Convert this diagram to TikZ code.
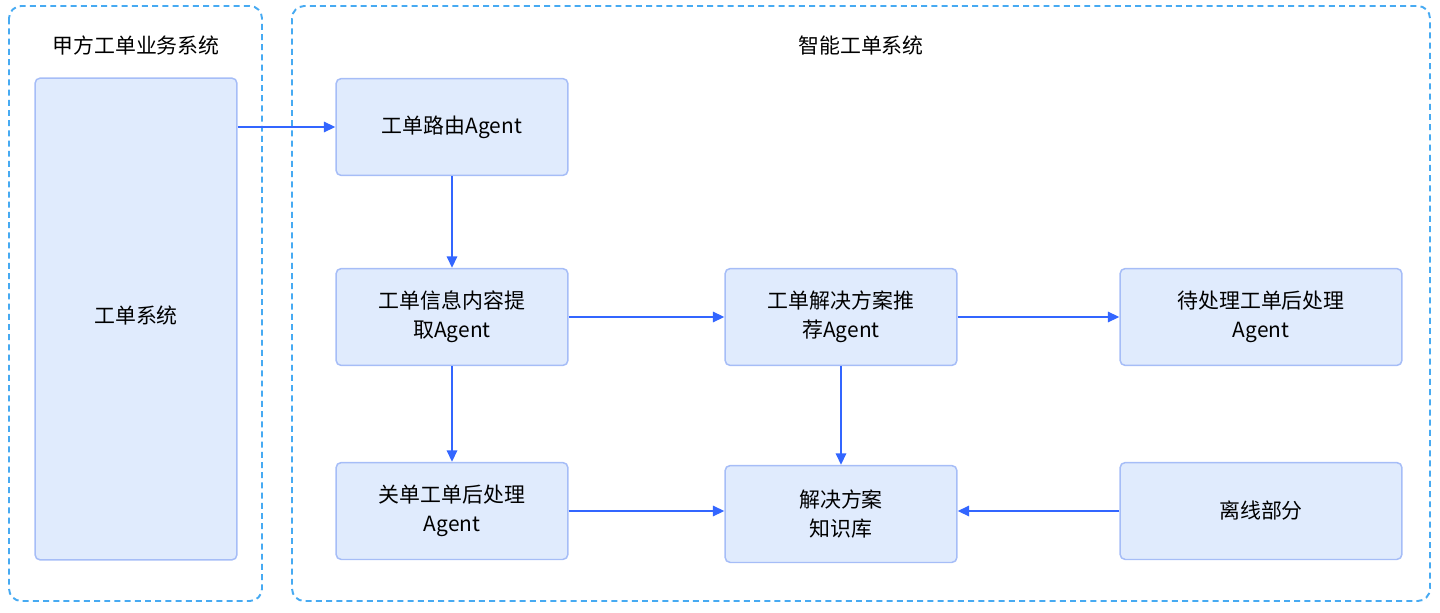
\documentclass[tikz,border=0pt]{standalone}
\usepackage{fontspec}
\setmainfont{Noto Sans CJK SC}
\usepackage{tikz}
\usepackage{xcolor}
\usetikzlibrary{positioning,arrows.meta}
\definecolor{boxfill}{HTML}{E0EBFD}
\definecolor{boxline}{HTML}{A6BDF7}
\definecolor{flow}{HTML}{3366FF}
\definecolor{frame}{HTML}{47AAF2}

\begin{document}
\begin{tikzpicture}[x=0.02cm,y=-0.02cm,every node/.style={font=\fontsize{11.9}{16.4}\selectfont}]
      \tikzstyle{b}=[rectangle,draw=boxline,fill=boxfill,line width=0.85pt,rounded corners=3pt,
                     minimum width=4.64cm,minimum height=1.94cm,align=center,inner sep=0pt];
      \tikzstyle{g}=[draw=frame,line width=1.1pt,dash pattern=on 3.4pt off 2.4pt,rounded corners=7pt];
      \tikzstyle{e}=[-{Triangle[length=6.5pt,width=6pt]},flow,line width=0.8pt];
      \useasboundingbox (0,0) rectangle (1440,612);
      % dashed frames
      \draw[g] (9,6) rectangle (262,601);
      \draw[g] (292,6) rectangle (1430,601);
      \node (t1) at (136,46) {甲方工单业务系统};
      \node (t2) at (861,46) {智能工单系统};
      \node[b,minimum width=4.04cm,minimum height=9.64cm] (sys) at (136,319) {\raisebox{4.5pt}{工单系统}};
      \node[b] (route) at (452,127) {工单路由Agent};
      \node[b] (info)  at (452,317) {工单信息内容提\\取Agent};
      \node[b] (close) at (452,511) {关单工单后处理\\Agent};
      \node[b] (rec)   at (841,317) {工单解决方案推\\荐Agent};
      \node[b] (kb)    at (841,514) {解决方案\\知识库};
      \node[b,minimum width=5.64cm] (todo) at (1261,317) {待处理工单后处理\\Agent};
      \node[b,minimum width=5.64cm] (off)  at (1261,511) {离线部分};
      \draw[e] (sys.east |- route) -- (route.west);
      \draw[e] (route) -- (info);
      \draw[e] (info) -- (rec);
      \draw[e] (rec) -- (todo);
      \draw[e] (info) -- (close);
      \draw[e] (close.east) -- (close.east -| kb.west);
      \draw[e] (rec) -- (kb);
      \draw[e] (off.west) -- (off.west -| kb.east);
    \end{tikzpicture}
\end{document}
